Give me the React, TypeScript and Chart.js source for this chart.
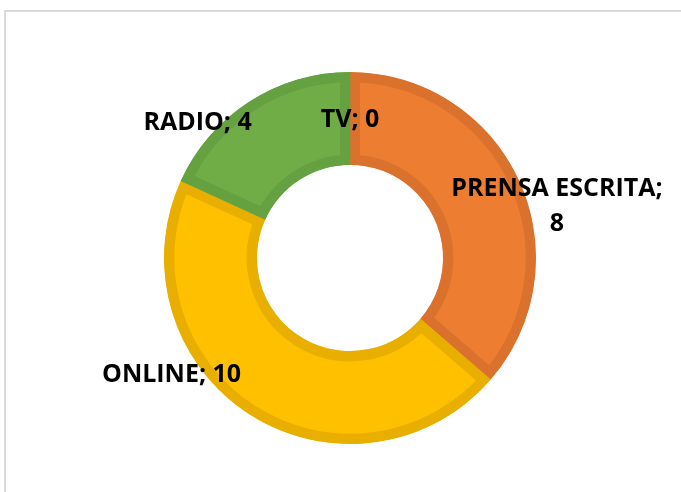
import React, { useEffect, useRef } from "react";
import { Chart, registerables } from "chart.js";

Chart.register(...registerables);

const categories = ["PRENSA ESCRITA", "ONLINE", "RADIO", "TV"];
const values = [8, 10, 4, 0];
const fillColors = ["#ED7D31", "#FFC000", "#70AD47", "#4472C4"];
const borderColors = ["#DA722D", "#E8AF00", "#66A141", "#3E68B3"];

// label offsets from each slice's centre point (px)
const labelOffsets = [
  [80, 6],
  [-103, 0],
  [-77, -18],
  [0, 1],
];

const labelPlugin = {
  id: "sliceLabels",
  afterDatasetsDraw(chart: any) {
    const ctx = chart.ctx;
    const meta = chart.getDatasetMeta(0);
    ctx.save();
    ctx.fillStyle = "#000000";
    ctx.font = "bold 25px 'Open Sans'";
    ctx.textAlign = "center";
    ctx.textBaseline = "middle";
    meta.data.forEach((arc: any, i: number) => {
      const p = arc.getCenterPoint();
      const [dx, dy] = labelOffsets[i];
      const x = p.x + dx;
      const y = p.y + dy;
      const text = categories[i] + "; " + values[i];
      if (i === 0) {
        ctx.fillText(categories[i] + ";", x, y - 17.5);
        ctx.fillText(String(values[i]), x, y + 17.5);
      } else {
        ctx.fillText(text, x, y);
      }
    });
    ctx.restore();
  },
};

export default function App() {
  const ref = useRef<HTMLCanvasElement | null>(null);
  useEffect(() => {
    if (!ref.current) return;
    const chart = new Chart(ref.current, {
      type: "doughnut",
      data: {
        labels: categories,
        datasets: [
          {
            data: values,
            backgroundColor: fillColors,
            borderColor: borderColors,
            borderWidth: 10,
            borderAlign: "inner",
          } as any,
        ],
      },
      options: {
        animation: false,
        responsive: false,
        cutout: "50%",
        layout: { padding: { left: 164, top: 72, right: 145, bottom: 48 } },
        plugins: {
          legend: { display: false },
          tooltip: { enabled: false },
        },
      },
      plugins: [labelPlugin],
    });
    return () => chart.destroy();
  }, []);
  return (
    <div style={{ position: "relative", width: 681, height: 492, overflow: "hidden", background: "#fff" }}>
      <style>{"body{margin:0}"}</style>
      <div
        style={{
          position: "absolute",
          left: 4,
          top: 10,
          width: 700,
          height: 500,
          border: "2px solid #d9d9d9",
          boxSizing: "border-box",
        }}
      />
      <canvas ref={ref} width={681} height={492} style={{ position: "absolute", left: 0, top: 0 }} />
    </div>
  );
}
